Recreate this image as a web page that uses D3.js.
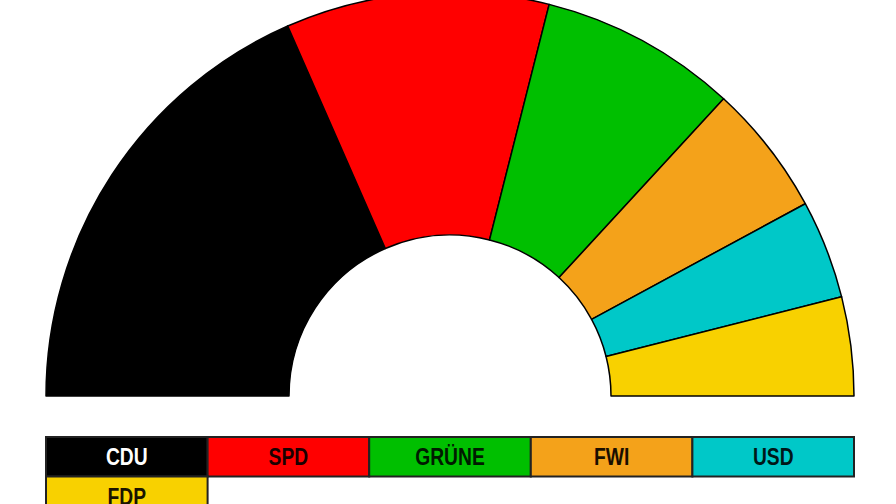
<!DOCTYPE html>
<html>
<head>
<meta charset="utf-8">
<script src="https://cdn.jsdelivr.net/npm/d3@7"></script>
<style>
  html, body { margin: 0; padding: 0; background: #fff; }
  svg { display: block; }
</style>
</head>
<body>
<svg id="chart" width="896" height="504"></svg>
<script>
const parties = ["CDU", "SPD", "GRÜNE", "FWI", "USD", "FDP"];
const seats = [14, 8, 6, 4, 3, 3];
const colors = ["#000000", "#ff0000", "#00bf00", "#f4a21a", "#00c8c8", "#f8d100"];
const textColors = ["#ffffff", "#1a0000", "#001a00", "#1a0f00", "#001818", "#1a1400"];

const svg = d3.select("#chart");
const cx = 450, cy = 396, rOuter = 404, rInner = 161;

const pie = d3.pie().sort(null).value(d => d.v)
  .startAngle(-Math.PI / 2).endAngle(Math.PI / 2);
const arc = d3.arc().innerRadius(rInner).outerRadius(rOuter);
const data = parties.map((p, i) => ({ p, v: seats[i], c: colors[i] }));

svg.append("g").attr("transform", `translate(${cx},${cy})`)
  .selectAll("path").data(pie(data)).join("path")
  .attr("d", arc)
  .attr("fill", d => d.data.c)
  .attr("stroke", "#000")
  .attr("stroke-width", 1.5)
  .attr("stroke-linejoin", "round");

// Legend
const perRow = 5;
const lx0 = 46, lx1 = 854, ly0 = 437, cellH = 39.5;
const xs = d3.scaleBand().domain(d3.range(perRow)).range([lx0, lx1]).padding(0);

const cells = svg.append("g").selectAll("g").data(data).join("g")
  .attr("transform", (d, i) => `translate(${xs(i % perRow)},${ly0 + Math.floor(i / perRow) * cellH})`);
cells.append("rect")
  .attr("width", xs.bandwidth()).attr("height", cellH)
  .attr("fill", d => d.c)
  .attr("stroke", "#222").attr("stroke-width", 2);
cells.append("text")
  .attr("transform", `translate(${xs.bandwidth() / 2},${cellH / 2 + 8.5}) scale(0.82,1)`)
  .attr("text-anchor", "middle")
  .attr("font-family", "'Liberation Sans Narrow', 'Arial Narrow', 'Liberation Sans', Arial, sans-serif")
  .attr("font-weight", "bold")
  .attr("font-size", 23.5)
  .attr("fill", (d, i) => textColors[i])
  .text(d => d.p);
</script>
</body>
</html>
